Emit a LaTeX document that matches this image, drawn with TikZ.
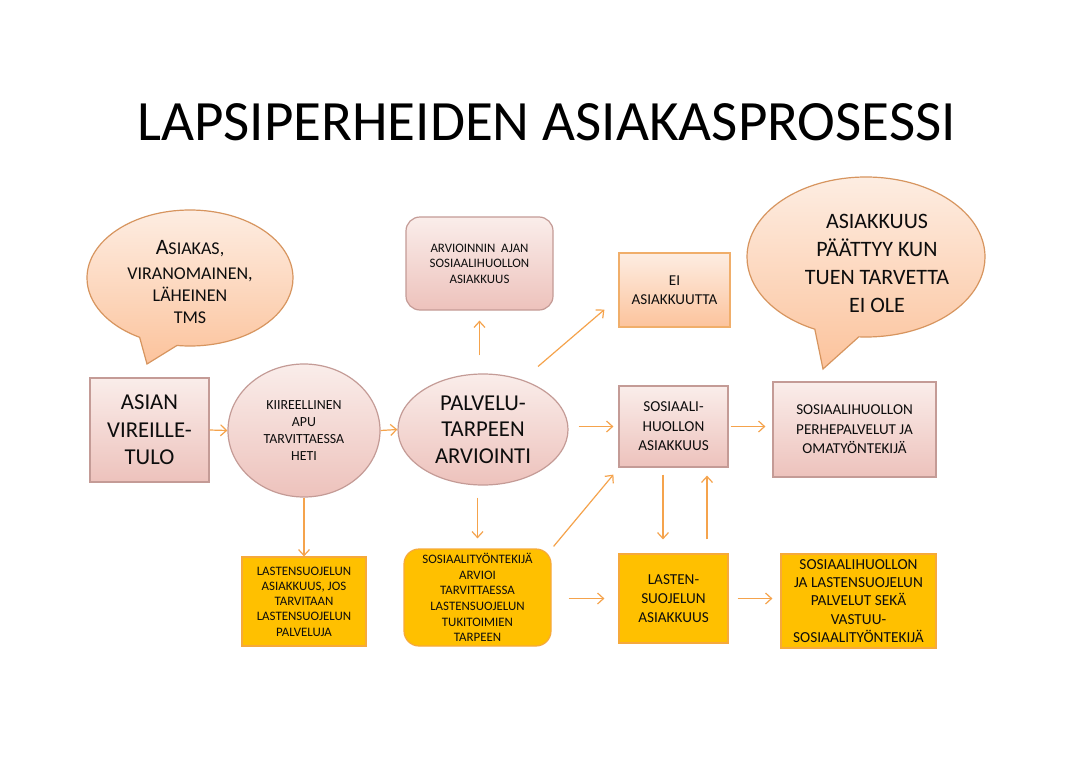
\documentclass[tikz,border=0pt]{standalone}
\usepackage{fontspec}
\setmainfont{Carlito}
\usetikzlibrary{shapes.geometric,shapes.callouts,arrows.meta,calc}
\definecolor{pinkT}{HTML}{FAEDEA}
\definecolor{pinkB}{HTML}{EDC2BC}
\definecolor{pinkD}{HTML}{C49B96}
\definecolor{peachT}{HTML}{FDEDE2}
\definecolor{peachB}{HTML}{FCC39C}
\definecolor{peachD}{HTML}{D7955F}
\definecolor{eiD}{HTML}{F0AE6A}
\definecolor{goldF}{HTML}{FFC000}
\definecolor{goldD}{HTML}{F6A93B}
\definecolor{arrC}{HTML}{F5A34C}
\definecolor{txt}{HTML}{0D0D0D}
\begin{document}
\begin{tikzpicture}[x=1pt,y=-1pt,
  pinkbox/.style={draw=pinkD, line width=1.2pt, top color=pinkT, bottom color=pinkB, inner sep=0pt, text=txt, align=center},
  pinkell/.style={ellipse, pinkbox},
  peachbox/.style={draw=eiD, line width=1.2pt, top color=peachT, bottom color=peachB, inner sep=0pt, text=txt, align=center},
  goldbox/.style={draw=goldD, line width=1.2pt, fill=goldF, inner sep=0pt, text=txt, align=center},
  bubble/.style={ellipse callout, draw=peachD, line width=1.2pt, top color=peachT, bottom color=peachB, inner sep=0pt, callout pointer arc=22},
  btext/.style={align=center, text=txt},
  arr/.style={draw=arrC, line width=1.2pt, -{Straight Barb[length=6pt,width=11pt]}}
]
\path[use as bounding box, fill=white] (0,0) rectangle (1092,771);

\node[font=\fontsize{57}{60}\selectfont, text=black] (title) at (546.5,122) {LAPSIPERHEIDEN ASIAKASPROSESSI};

% speech bubbles
\node[bubble, minimum width=206, minimum height=136, callout absolute pointer={(147,364)}] (b1) at (190,278) {};
\node[btext, font=\fontsize{18}{22}\selectfont] (b1t) at (190,282) {{\fontsize{22}{22}\selectfont A}SIAKAS,\\[3pt]VIRANOMAINEN,\\LÄHEINEN\\TMS};
\node[bubble, minimum width=238, minimum height=160, callout absolute pointer={(823,369)}] (b2) at (866,257) {};
\node[btext, font=\fontsize{22}{28}\selectfont] (b2t) at (877,263) {ASIAKKUUS\\PÄÄTTYY KUN\\TUEN TARVETTA\\EI OLE};

% main nodes
\node[pinkbox, minimum width=119, minimum height=104, font=\fontsize{22.7}{27.5}\selectfont] (asian) at (149.5,430) {ASIAN\\VIREILLE-\\TULO};
\node[pinkell, minimum width=152, minimum height=133, font=\fontsize{13.9}{17.3}\selectfont] (kiire) at (304,430.5) {KIIREELLINEN\\APU\\TARVITTAESSA\\HETI};
\node[pinkell, minimum width=170, minimum height=111, font=\fontsize{22.7}{26.5}\selectfont] (palv) at (483,429.5) {PALVELU-\\TARPEEN\\ARVIOINTI};
\node[pinkbox, rounded corners=14, minimum width=147, minimum height=93, font=\fontsize{12.9}{15.5}\selectfont] (arv) at (479.5,263.5) {ARVIOINNIN\ \ AJAN\\SOSIAALIHUOLLON\\ASIAKKUUS};
\node[peachbox, minimum width=111, minimum height=74, font=\fontsize{15.1}{19}\selectfont] (ei) at (674.5,290) {EI\\ASIAKKUUTTA};
\node[pinkbox, minimum width=109, minimum height=81, font=\fontsize{15.2}{19.5}\selectfont] (sos) at (673.5,426.5) {SOSIAALI-\\HUOLLON\\ASIAKKUUS};
\node[pinkbox, minimum width=163, minimum height=95, font=\fontsize{15.1}{19.5}\selectfont] (perhe) at (854.5,429.5) {SOSIAALIHUOLLON\\PERHEPALVELUT JA\\OMATYÖNTEKIJÄ};
\node[goldbox, minimum width=124, minimum height=89, font=\fontsize{12.9}{15.3}\selectfont] (ls) at (304,601.5) {LASTENSUOJELUN\\ASIAKKUUS, JOS\\TARVITAAN\\LASTENSUOJELUN\\PALVELUJA};
\node[goldbox, rounded corners=15, minimum width=147, minimum height=97, font=\fontsize{12.9}{15.6}\selectfont] (st) at (477.5,597.5) {SOSIAALITYÖNTEKIJÄ\\ARVIOI\\TARVITTAESSA\\LASTENSUOJELUN\\TUKITOIMIEN\\TARPEEN};
\node[goldbox, minimum width=109, minimum height=89, font=\fontsize{15.2}{19}\selectfont] (las) at (673.5,598.5) {LASTEN-\\SUOJELUN\\ASIAKKUUS};
\node[goldbox, minimum width=155, minimum height=94, font=\fontsize{15.3}{18.2}\selectfont] (fin) at (858.5,601) {SOSIAALIHUOLLON\\JA LASTENSUOJELUN\\PALVELUT SEKÄ\\VASTUU-\\SOSIAALITYÖNTEKIJÄ};

% connectors
\draw[arr] (asian.east) -- (kiire.west);
\draw[arr] (kiire.east) -- (palv.west);
\draw[arr, shorten <=18pt, shorten >=10pt] (arv.south |- palv.north) -- (arv.south);
\draw[arr] ($(palv.center)+(55,-63)$) -- ($(ei.south west)+(-14,-18)$);
\draw[arr, shorten <=10pt, shorten >=5pt] (palv.east |- sos.west) -- (sos.west);
\draw[arr, shorten <=2pt, shorten >=7pt] (sos.east) -- (sos.east -| perhe.west);
\draw[arr] (kiire.south) -- (ls.north);
\draw[arr, shorten <=12pt, shorten >=10pt] (st.north |- palv.south) -- (st.north);
\draw[arr] ($(st.north east)+(2,-2)$) -- ($(sos.south west)+(-5,7)$);
\draw[arr, shorten <=17pt, shorten >=14pt] (st.east |- las.west) -- (las.west);
\draw[arr, shorten <=7pt, shorten >=14pt] ($(sos.south)+(-10.5,0)$) -- ($(las.north)+(-10.5,0)$);
\draw[arr, shorten <=14pt, shorten >=8pt] ($(las.north)+(33.5,0)$) -- ($(sos.south)+(33.5,0)$);
\draw[arr, shorten <=9pt, shorten >=8pt] (las.east) -- (fin.west |- las.east);
\end{tikzpicture}
\end{document}
